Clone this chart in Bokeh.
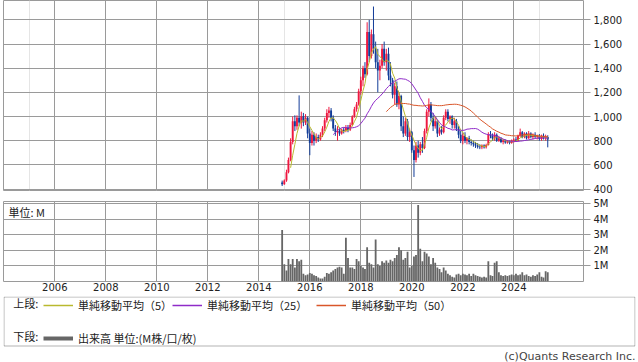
import pandas as pd
from bokeh.plotting import figure
from bokeh.layouts import column
from bokeh.models import (Range1d, FixedTicker, NumeralTickFormatter, DatetimeTickFormatter,
                          Grid, Label, Legend, LegendItem, ColumnDataSource, BoxAnnotation)
from bokeh.embed import file_html
from bokeh.resources import INLINE

# ---------------- data (monthly candles) ----------------
first_month = "2014-12-01"

open_ = [455, 440, 470, 540, 640, 790, 960, 920, 990, 950, 1000, 950,
         990, 860, 780, 850, 800, 830, 810, 850, 900, 970, 1030, 1050,
         990, 900, 870, 880, 860, 890, 880, 910, 890, 930, 1000, 1060,
         1100, 1210, 1300, 1400, 1350, 1700, 1500, 1680, 1560, 1450, 1380, 1420,
         1560, 1450, 1520, 1340, 1300, 1180, 1250, 1100, 1170, 920, 860, 960,
         830, 870, 720, 640, 760, 700, 770, 740, 880, 1040, 1100, 990,
         920, 960, 860, 890, 870, 990, 1040, 980, 1000, 930, 960, 900,
         850, 800, 840, 800, 820, 790, 780, 770, 760, 750, 745, 760,
         745, 765, 850, 840, 820, 850, 800, 820, 790, 800, 785, 795,
         780, 800, 810, 800, 840, 870, 830, 860, 820, 860, 830, 850,
         830, 840, 815, 840, 820, 830]
high = [470, 480, 560, 660, 820, 1000, 1010, 1010, 1175, 1040, 1030, 1020,
        1000, 900, 880, 870, 860, 850, 870, 920, 990, 1060, 1080, 1070,
        1010, 930, 920, 910, 900, 910, 930, 930, 950, 1010, 1080, 1120,
        1230, 1330, 1420, 1450, 1780, 1800, 1720, 1910, 1620, 1560, 1470, 1600,
        1620, 1560, 1570, 1450, 1320, 1280, 1290, 1200, 1180, 1000, 990, 980,
        900, 880, 760, 790, 800, 790, 830, 900, 1060, 1150, 1120, 1030,
        1000, 970, 910, 920, 1010, 1060, 1060, 1010, 1010, 990, 980, 920,
        880, 860, 870, 830, 840, 810, 800, 790, 780, 770, 770, 770,
        775, 870, 880, 860, 870, 860, 840, 830, 810, 810, 805, 800,
        810, 820, 830, 850, 900, 880, 870, 870, 880, 870, 860, 870,
        850, 855, 850, 860, 850, 845]
low = [425, 435, 460, 530, 630, 770, 880, 890, 920, 900, 920, 930,
       820, 680, 760, 760, 780, 790, 800, 830, 880, 950, 990, 960,
       880, 840, 800, 840, 850, 860, 870, 870, 880, 920, 990, 1040,
       1090, 1180, 1250, 1320, 1340, 1450, 1480, 1520, 1400, 1200, 1300, 1400,
       1420, 1380, 1300, 1250, 1150, 1100, 1080, 1060, 880, 830, 840, 800,
       790, 700, 500, 620, 660, 680, 700, 730, 860, 1000, 960, 880,
       900, 830, 840, 850, 860, 970, 960, 940, 900, 900, 880, 820,
       780, 770, 780, 770, 770, 760, 750, 740, 735, 730, 730, 735,
       735, 760, 820, 800, 800, 790, 790, 780, 770, 775, 775, 770,
       775, 785, 790, 795, 830, 820, 820, 810, 815, 820, 810, 820,
       810, 800, 800, 810, 800, 745]
close = [440, 470, 540, 640, 790, 960, 920, 990, 950, 1000, 950, 990,
         860, 780, 850, 800, 830, 810, 850, 900, 970, 1030, 1050, 990,
         900, 870, 880, 860, 890, 880, 910, 890, 930, 1000, 1060, 1100,
         1210, 1300, 1400, 1350, 1700, 1500, 1680, 1560, 1450, 1380, 1420, 1560,
         1450, 1520, 1340, 1300, 1180, 1250, 1100, 1170, 920, 860, 960, 830,
         870, 720, 640, 760, 700, 770, 740, 880, 1040, 1100, 990, 920,
         960, 860, 890, 870, 990, 1040, 980, 1000, 930, 960, 900, 850,
         800, 840, 800, 820, 790, 780, 770, 760, 750, 745, 760, 745,
         765, 850, 840, 820, 850, 800, 820, 790, 800, 785, 795, 780,
         800, 810, 800, 840, 870, 830, 860, 820, 860, 830, 850, 830,
         840, 815, 840, 820, 830, 810]
volume_m = [3.3, 1.1, 0.7, 1.45, 1.1, 1.45, 0.9, 1.45, 1.3, 1.4,
            0.5, 0.4, 0.45, 0.55, 0.5, 0.4, 0.35, 0.25, 0.2, 0.2,
            0.3, 0.55, 0.5, 0.6, 0.7, 0.8, 0.9, 0.95, 0.9, 0.5,
            2.8, 1.5, 0.9, 0.9, 0.8, 1.45, 1.3, 1.0, 0.9, 0.8,
            2.2, 1.2, 1.1, 0.9, 2.7, 1.1, 1.0, 1.3, 1.2, 1.35,
            1.2, 1.4, 1.3, 1.5, 1.7, 2.2, 2.0, 1.4, 1.5, 1.9,
            0.9, 1.0, 1.6, 1.7, 4.9, 2.1, 1.3, 1.9, 1.8, 1.6,
            1.1, 1.5, 1.2, 0.9, 0.8, 0.6, 0.9, 0.7, 0.5, 0.4,
            0.3, 0.25, 0.45, 0.5, 0.4, 0.5, 0.45, 0.4, 0.5, 0.35,
            0.5, 0.4, 0.35, 0.3, 0.25, 0.3, 0.25, 1.3, 0.4, 0.35,
            1.2, 1.3, 0.6, 0.4, 0.35, 0.4, 0.35, 0.4, 0.45, 0.4,
            0.5, 0.4, 0.45, 0.6, 0.4, 0.45, 0.35, 0.3, 0.4, 0.35,
            0.45, 0.6, 0.3, 0.25, 0.65, 0.6]

year_ticks = list(range(2006, 2025, 2))
price_ticks = [400, 600, 800, 1000, 1200, 1400, 1600, 1800]
volume_ticks = [1, 2, 3, 4, 5]
volume_tick_labels = ["1M", "2M", "3M", "4M", "5M"]
ma_periods = [5, 25, 50]
ma_labels = ["単純移動平均（5）", "単純移動平均（25）", "単純移動平均（50）"]
volume_label = "出来高 単位:(M株/口/枚)"
upper_title = "上段:"
lower_title = "下段:"
unit_text = "単位: M"
credit_text = "(c)Quants Research Inc."

# ---------------- styles ----------------
UP = "#ee1840"
DOWN = "#123c98"
MA_COLORS = ["#b9b92e", "#8f2bc8", "#d9562a"]
VOL_COLOR = "#666666"
GRID = "#9a9a9a"
TICK_FONT = "DejaVu Sans"
JP_FONT = "Noto Sans CJK JP"
W = 638

months = pd.date_range(first_month, periods=len(close), freq="MS")
df = pd.DataFrame({"date": months, "open": open_, "high": high, "low": low,
                   "close": close, "vol": volume_m})
df["top"] = df[["open", "close"]].max(axis=1)
df["bottom"] = df[["open", "close"]].min(axis=1)
df["color"] = [UP if c >= o else DOWN for o, c in zip(df["open"], df["close"])]
for n in ma_periods:
    df[f"ma{n}"] = df["close"].rolling(n).mean()
src = ColumnDataSource(df)

DAY = 86400000
x_range = Range1d(pd.Timestamp("2003-12-28"), pd.Timestamp("2026-09-25"))
year_ms = [pd.Timestamp(f"{y}-01-01").value // 10**6 for y in year_ticks]


def style_right_axis(ax):
    ax.axis_line_color = None
    ax.major_tick_line_color = GRID
    ax.major_tick_out = 7
    ax.major_tick_in = 0
    ax.minor_tick_line_color = None
    ax.major_label_standoff = 3
    ax.major_label_text_font = TICK_FONT
    ax.major_label_text_font_size = "10px"
    ax.major_label_text_color = "#222222"


# ---------------- upper panel ----------------
top = figure(width=W, height=196, x_range=x_range, y_range=Range1d(388, 1960),
             x_axis_location=None, y_axis_location="right",
             output_backend="svg", toolbar_location=None,
             min_border_left=3, min_border_right=55, min_border_top=0, min_border_bottom=6)
top.outline_line_color = GRID
top.add_layout(Grid(dimension=0, ticker=FixedTicker(ticks=year_ms), grid_line_color=GRID))
top.yaxis.ticker = FixedTicker(ticks=price_ticks)
top.yaxis.formatter = NumeralTickFormatter(format="0,0")
style_right_axis(top.yaxis[0])
top.ygrid.grid_line_color = GRID

top.segment(x0="date", y0="low", x1="date", y1="high", color="color", line_width=1, source=src)
top.vbar(x="date", top="top", bottom="bottom", width=27 * DAY, fill_color="color",
         line_color=None, source=src)
for n, c in zip(ma_periods, MA_COLORS):
    top.line(x="date", y=f"ma{n}", line_color=c, line_width=1, source=src)

# ---------------- lower panel ----------------
bot = figure(width=W, height=100, x_range=x_range, y_range=Range1d(0, 5.13),
             y_axis_location="right", output_backend="svg", toolbar_location=None,
             min_border_left=3, min_border_right=55, min_border_top=5, min_border_bottom=15)
bot.outline_line_color = GRID
bot.xaxis.ticker = FixedTicker(ticks=year_ms)
bot.xaxis.formatter = DatetimeTickFormatter(years="%Y", months="%Y", days="%Y")
bot.xaxis.axis_line_color = None
bot.xaxis.major_tick_line_color = None
bot.xaxis.minor_tick_line_color = None
bot.xaxis.major_tick_out = 0
bot.xaxis.major_tick_in = 0
bot.xaxis.minor_tick_out = 0
bot.xaxis.minor_tick_in = 0
bot.xaxis.major_label_standoff = 1
bot.xaxis.major_label_text_font = TICK_FONT
bot.xaxis.major_label_text_font_size = "10px"
bot.xaxis.major_label_text_color = "#222222"
bot.xgrid.grid_line_color = GRID
bot.yaxis.ticker = FixedTicker(ticks=volume_ticks)
bot.yaxis.major_label_overrides = {t: l for t, l in zip(volume_ticks, volume_tick_labels)}
style_right_axis(bot.yaxis[0])
bot.ygrid.grid_line_color = GRID

bot.vbar(x="date", top="vol", bottom=0, width=26 * DAY, fill_color=VOL_COLOR,
         line_color=None, source=src)
bot.add_layout(Label(x=x_range.start, y=4.94, x_offset=5, text=unit_text,
                     text_font=JP_FONT, text_font_size="11px", text_color="#222222",
                     text_baseline="top", text_align="left"))

# ---------------- legend panel (1 unit = 1 px) ----------------
leg = figure(width=W, height=66, x_range=Range1d(0, 632), y_range=Range1d(0, 66),
             x_axis_location=None, y_axis_location=None, output_backend="svg",
             toolbar_location=None, min_border_left=3, min_border_right=3,
             min_border_top=0, min_border_bottom=0)
if "frame_align" in leg.properties():
    leg.frame_align = False
leg.outline_line_color = None
leg.xgrid.visible = False
leg.ygrid.visible = False
leg.add_layout(BoxAnnotation(left=0.5, right=631.5, bottom=16.5, top=65.5,
                             fill_alpha=0, line_color="#000000", line_width=1))

# sample renderers for the legend (kept outside the visible ranges)
dummies = [leg.line(x=[-20, -10], y=[-20, -20], line_color=c, line_width=1.5) for c in MA_COLORS]
vol_dummy = leg.line(x=[-20, -10], y=[-20, -20], line_color=VOL_COLOR, line_width=4)


def make_legend(label, renderer, loc):
    return Legend(items=[LegendItem(label=label, renderers=[renderer])], location=loc,
                  orientation="horizontal", padding=0, margin=0, spacing=0,
                  glyph_width=30, glyph_height=12, label_height=12, label_standoff=5,
                  label_text_font=JP_FONT, label_text_font_size="11px",
                  label_text_color="#222222", border_line_color=None,
                  background_fill_alpha=0)


for lab, r, x in zip(ma_labels, dummies, [40, 169, 313]):
    leg.add_layout(make_legend(lab, r, (x, 49)))
leg.add_layout(make_legend(volume_label, vol_dummy, (40, 16)))

for txt, y in [(upper_title, 59.3), (lower_title, 26.3)]:
    leg.add_layout(Label(x=9.7, y=y, text=txt, text_font=JP_FONT, text_font_size="11px",
                         text_color="#222222", text_baseline="middle", text_align="left"))
leg.add_layout(Label(x=632, y=6, text=credit_text, text_font=TICK_FONT,
                     text_font_size="11px", text_color="#444444",
                     text_baseline="middle", text_align="right"))

layout = column(top, bot, leg, spacing=0)
open("out.html", "w").write(file_html(layout, INLINE))
